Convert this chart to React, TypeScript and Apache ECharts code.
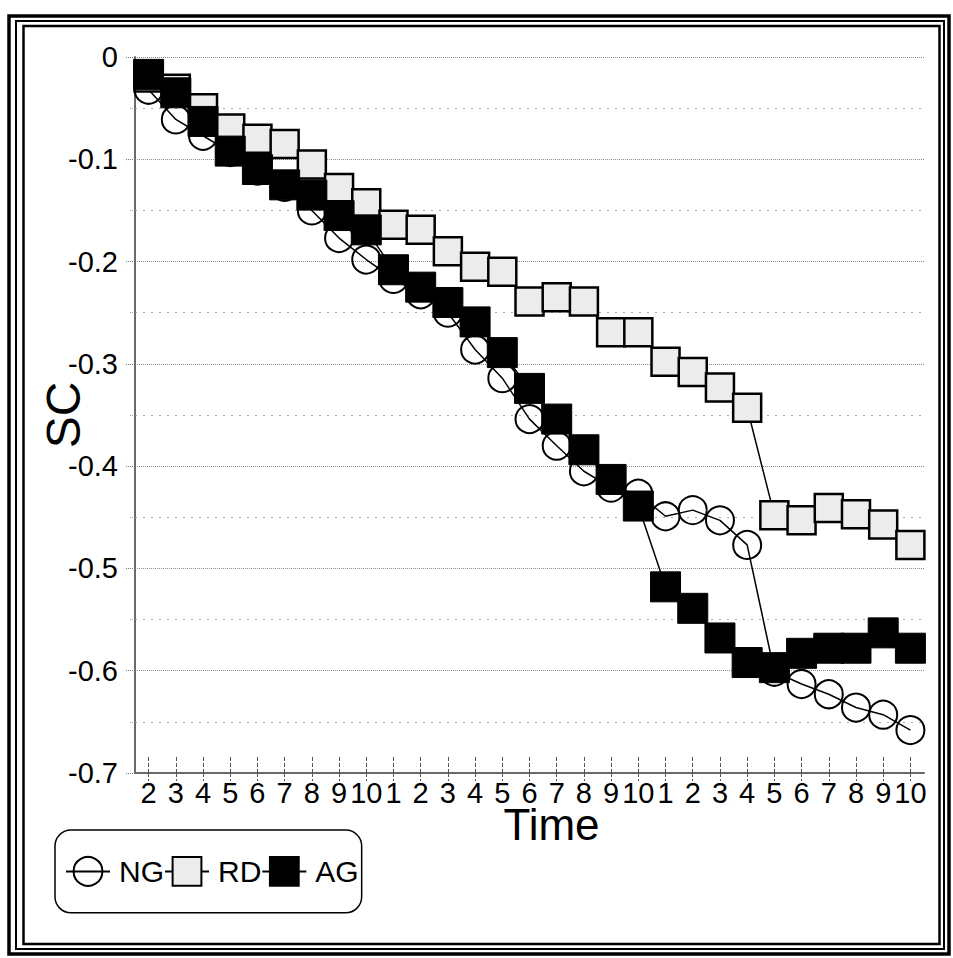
import React, { useEffect, useRef } from "react";
import * as echarts from "echarts";

const categories = ["2", "3", "4", "5", "6", "7", "8", "9", "10", "1", "2", "3", "4", "5", "6", "7", "8", "9", "10", "1", "2", "3", "4", "5", "6", "7", "8", "9", "10"];

const ngValues = [-0.032, -0.061, -0.077, -0.093, -0.111, -0.127, -0.15, -0.177, -0.198, -0.217, -0.232, -0.25, -0.286, -0.314, -0.354, -0.38, -0.405, -0.421, -0.427, -0.449, -0.443, -0.453, -0.477, -0.601, -0.613, -0.623, -0.636, -0.643, -0.658];
const rdValues = [-0.02, -0.031, -0.05, -0.07, -0.08, -0.085, -0.105, -0.128, -0.143, -0.164, -0.169, -0.19, -0.205, -0.21, -0.239, -0.235, -0.239, -0.269, -0.269, -0.298, -0.308, -0.323, -0.343, -0.448, -0.453, -0.441, -0.447, -0.457, -0.477];
const agValues = [-0.017, -0.035, -0.063, -0.092, -0.11, -0.125, -0.135, -0.155, -0.169, -0.208, -0.225, -0.24, -0.259, -0.289, -0.324, -0.354, -0.384, -0.413, -0.439, -0.518, -0.539, -0.568, -0.592, -0.597, -0.583, -0.578, -0.578, -0.563, -0.578];

const seriesNames = ["NG", "RD", "AG"];
const yTicks = { min: -0.7, max: 0, interval: 0.1 };

const FONT = "'Liberation Sans', Arial, Helvetica, sans-serif";

export default function App() {
  const ref = useRef<HTMLDivElement>(null);
  useEffect(() => {
    if (!ref.current) return;
    const chart = echarts.init(ref.current, undefined, { renderer: "svg" });
    const option: any = {
      animation: false,
      backgroundColor: "#fff",
      textStyle: { fontFamily: FONT, color: "#000" },
      grid: { left: 135, right: 29, top: 57, bottom: 185, containLabel: false, outerBoundsMode: "none" },
      legend: {
        left: 55,
        top: 830,
        orient: "horizontal",
        itemGap: 0,
        itemWidth: 44,
        itemHeight: 36,
        padding: [26, 3, 26, 10],
        borderColor: "#000",
        borderWidth: 1.5,
        borderRadius: 16,
        textStyle: { fontSize: 30, color: "#000", fontFamily: FONT, padding: [0, 0, 0, 4] },
        data: seriesNames,
      },
      xAxis: [
        {
          type: "category",
          data: categories,
          boundaryGap: true,
          name: "Time",
          nameLocation: "middle",
          nameGap: 36,
          nameMoveOverlap: false,
          nameTextStyle: { fontSize: 44, lineHeight: 30, color: "#000", fontFamily: FONT, padding: [0, 0, 0, 44] },
          axisLine: { show: true, onZero: false, lineStyle: { color: "#6a6a6a", width: 2 } },
          axisTick: { show: true, alignWithLabel: true, length: 8, lineStyle: { color: "#555", type: "dashed", width: 1 } },
          axisLabel: { interval: 0, fontSize: 29, lineHeight: 22, color: "#000", margin: 9, fontFamily: FONT },
          splitLine: { show: false },
        },
        {
          type: "category",
          data: categories,
          boundaryGap: true,
          position: "bottom",
          axisLine: { show: false, onZero: false },
          axisTick: { show: true, inside: true, alignWithLabel: true, length: 16, lineStyle: { color: "#555", type: "dashed", width: 1 } },
          axisLabel: { show: false },
          splitLine: { show: false },
        },
      ],
      yAxis: {
        type: "value",
        min: yTicks.min,
        max: yTicks.max,
        interval: yTicks.interval,
        name: "SC",
        nameLocation: "middle",
        nameGap: 48,
        nameMoveOverlap: false,
        nameTextStyle: { fontSize: 48, color: "#000", fontFamily: FONT },
        axisLine: { show: true, lineStyle: { color: "#6a6a6a", width: 2 } },
        axisTick: { show: true, length: 10, lineStyle: { color: "#777", type: "dotted", width: 1 } },
        minorTick: { show: true, splitNumber: 2, length: 6, lineStyle: { color: "#999", type: "dotted" } },
        axisLabel: { fontSize: 29, color: "#000", margin: 17, fontFamily: FONT },
        splitLine: { show: true, lineStyle: { color: "#8a8a8a", type: "dotted", width: 1 } },
        minorSplitLine: { show: true, lineStyle: { color: "#aaa", type: [2, 6], width: 1 } },
      },
      graphic: [
        { type: "rect", silent: true, z: 100, shape: { x: 9, y: 16, width: 940, height: 938 }, style: { fill: "none", stroke: "#000", lineWidth: 3.5 } },
        { type: "rect", silent: true, z: 100, shape: { x: 16, y: 21, width: 928, height: 928 }, style: { fill: "none", stroke: "#000", lineWidth: 2 } },
        { type: "rect", silent: true, z: 100, shape: { x: 23.5, y: 26, width: 916, height: 918 }, style: { fill: "none", stroke: "#000", lineWidth: 2.5 } },
      ],
      series: [
        {
          name: "NG",
          type: "line",
          data: ngValues,
          symbol: "circle",
          symbolSize: 28,
          showAllSymbol: true,
          itemStyle: { color: "rgba(0,0,0,0)", borderColor: "#000", borderWidth: 2 },
          lineStyle: { color: "#000", width: 1.5 },
          emphasis: { disabled: true },
        },
        {
          name: "RD",
          type: "line",
          data: rdValues,
          symbol: "rect",
          symbolSize: 28,
          showAllSymbol: true,
          itemStyle: { color: "#ececec", borderColor: "#000", borderWidth: 2.5 },
          lineStyle: { color: "#000", width: 1.5 },
          emphasis: { disabled: true },
        },
        {
          name: "AG",
          type: "line",
          data: agValues,
          symbol: "rect",
          symbolSize: 30,
          showAllSymbol: true,
          itemStyle: { color: "#000", borderColor: "#000", borderWidth: 1 },
          lineStyle: { color: "#000", width: 1.5 },
          emphasis: { disabled: true },
        },
      ],
    };
    chart.setOption(option);
    return () => chart.dispose();
  }, []);
  return (
    <div
      ref={ref}
      style={{ position: "fixed", left: 0, top: 0, width: 953, height: 958, background: "#fff" }}
    />
  );
}
